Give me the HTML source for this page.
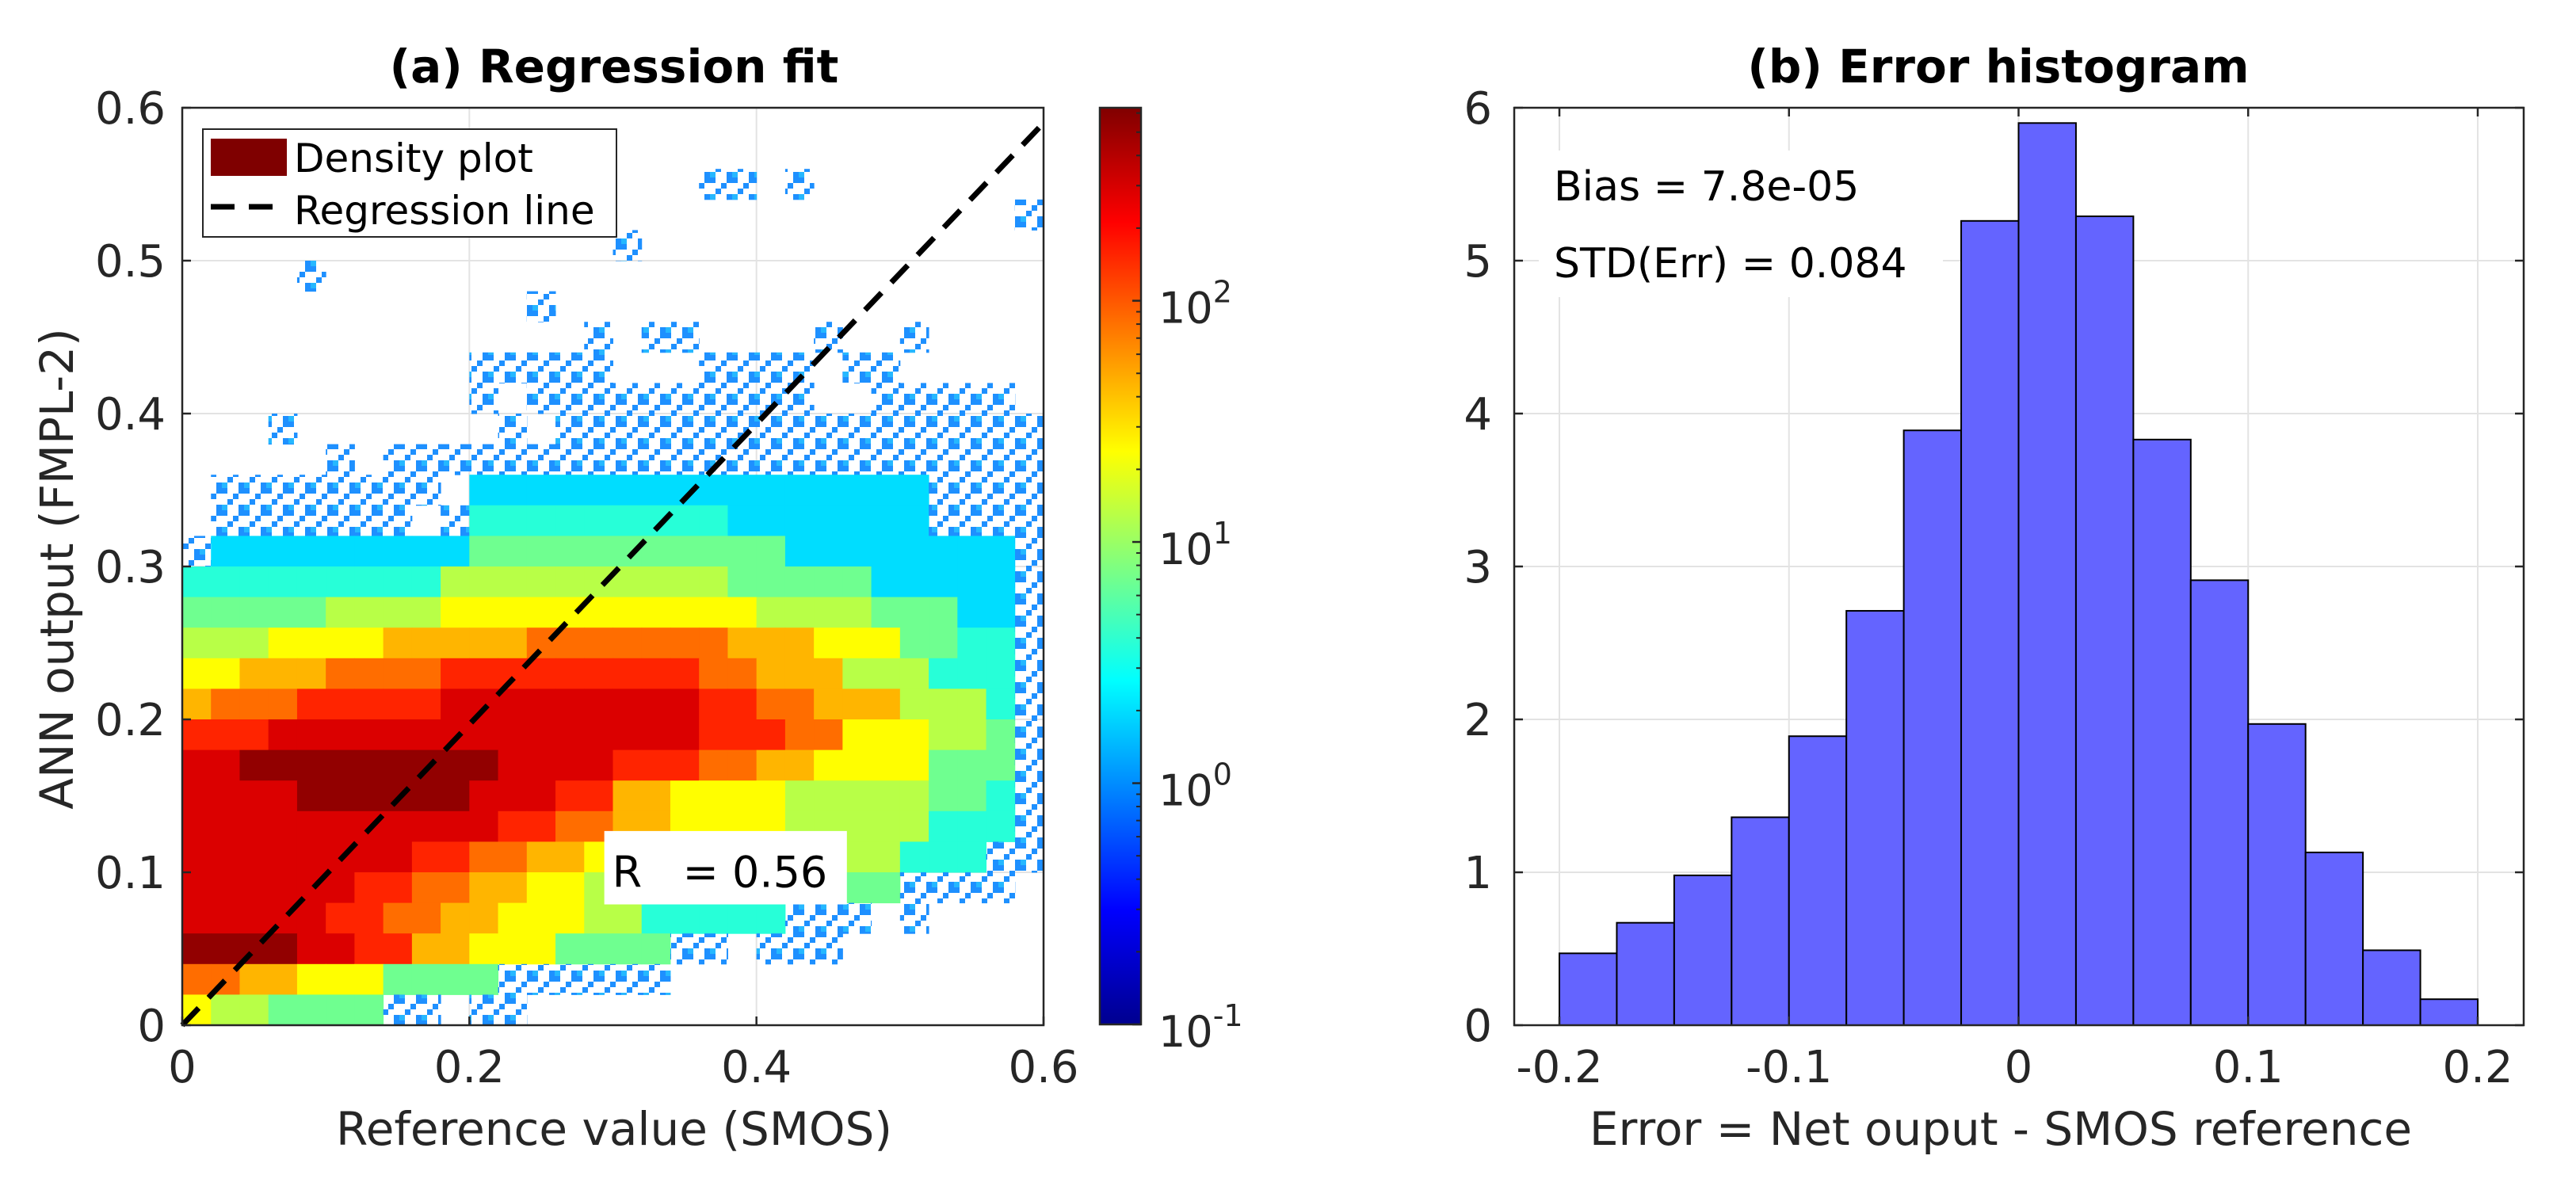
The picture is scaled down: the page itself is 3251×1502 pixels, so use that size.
<!DOCTYPE html>
<html><head><meta charset="utf-8"><style>
html,body{margin:0;padding:0;background:#fff;}
svg{display:block;font-family:"DejaVu Sans","Liberation Sans",sans-serif;}
</style></head><body>
<svg id="fig" width="3251" height="1502" viewBox="0 0 3251 1502" xmlns="http://www.w3.org/2000/svg">
<defs>
<linearGradient id="jet" x1="0" y1="1" x2="0" y2="0">
<stop offset="0" stop-color="#00008f"/><stop offset="0.125" stop-color="#0000ff"/><stop offset="0.375" stop-color="#00ffff"/><stop offset="0.625" stop-color="#ffff00"/><stop offset="0.875" stop-color="#ff0000"/><stop offset="1" stop-color="#800000"/>
</linearGradient>
<pattern id="speck" width="28" height="28" patternUnits="userSpaceOnUse">
<rect x="0" y="0" width="7" height="7" fill="#1e90ff"/><rect x="14" y="7" width="7" height="7" fill="#1e90ff"/>
<rect x="7" y="14" width="7" height="7" fill="#1e90ff"/><rect x="21" y="21" width="7" height="7" fill="#1e90ff"/>
<rect x="21" y="0" width="7" height="7" fill="#1e90ff"/><rect x="0" y="21" width="7" height="7" fill="#26b8ff"/>
</pattern>
</defs>
<g id="left"></g>
<g id="right"></g>
</svg>
<script>
// ---------- data: regression density (0.02 bins, rows top y=0.60 -> bottom y=0) ----------
// '.' empty, 's' sparse single counts, digit d => log10(count) = 0.3 + d*0.27
const densityRows = [
"..............................",
"..............................",
"..................ss.s........",
".............................s",
"...............s..............",
"....s.........................",
"............s.................",
"..............s.ss....s..s....",
"..........sssss...ssss.ss.....",
"..........s.ssssssssss..sssss.",
"...s.......s.sssssssssssssssss",
".....s.sssssssssssssssssssssss",
".ssssssss.0000000000000000ssss",
".sssssss.s1111111110000000ssss",
"s0000000002222222222200000000s",
"11111111133333333332222200000s",
"22222333344444444444333322200s",
"33344445555566666665554442211s",
"44555666677777777766555333111s",
"56667777788888888877665553331s",
"77788888888888888877766444332s",
"88999999999888877766554444222s",
"88889999998887755444433333221s",
"88888888888776655444433333111s",
"8888888877665544333333333111ss",
"8888887766554433222222222ssss.",
"888887766554443311111sss.s....",
"99998877554442222ss.sss.......",
"66554442222ssssss.............",
"4332222ss.ss.................."
];
const xTicksA = [0, 0.2, 0.4, 0.6];
const yTicksA = [0, 0.1, 0.2, 0.3, 0.4, 0.5, 0.6];
const xTickLabelsA = ["0", "0.2", "0.4", "0.6"];
const yTickLabelsA = ["0", "0.1", "0.2", "0.3", "0.4", "0.5", "0.6"];
const cbarExps = [-1, 0, 1, 2];
const regLine = [[0, 0], [0.6, 0.59]];
// ---------- data: error histogram ----------
const binEdgesStart = -0.2;
const binWidth = 0.025;
const histValues = [0.47, 0.67, 0.98, 1.36, 1.89, 2.71, 3.89, 5.26, 5.90, 5.29, 3.83, 2.91, 1.97, 1.13, 0.49, 0.17];
const xTicksB = [-0.2, -0.1, 0, 0.1, 0.2];
const xTickLabelsB = ["-0.2", "-0.1", "0", "0.1", "0.2"];
const yTicksB = [0, 1, 2, 3, 4, 5, 6];

const NS = "http://www.w3.org/2000/svg";
function mk(parent, tag, attrs, text) {
  const e = document.createElementNS(NS, tag);
  for (const k in attrs) e.setAttribute(k, attrs[k]);
  if (text !== undefined) e.textContent = text;
  parent.appendChild(e);
  return e;
}
function jet(t) {
  t = Math.max(0, Math.min(1, t));
  const f = (x) => Math.max(0, Math.min(1, x));
  const r = f(Math.min(4 * t - 1.5, -4 * t + 4.5));
  const g = f(Math.min(4 * t - 0.5, -4 * t + 3.5));
  const b = f(Math.min(4 * t + 0.5, -4 * t + 2.5));
  return `rgb(${Math.round(r*255)},${Math.round(g*255)},${Math.round(b*255)})`;
}

// ===== Left panel =====
const L = document.getElementById('left');
const ax = {x0: 230, x1: 1317, y0: 1294, y1: 136};
const sxA = v => ax.x0 + (v - 0) / 0.6 * (ax.x1 - ax.x0);
const syA = v => ax.y0 - (v - 0) / 0.6 * (ax.y0 - ax.y1);
const cmin = -1, cmax = 2.8;

yTicksA.forEach(v => { const g = mk(L, 'line', {x1: ax.x0, x2: ax.x1, y1: syA(v), y2: syA(v), stroke: '#e3e3e3', 'stroke-width': 2});
  
   });
xTicksA.forEach(v => { const g = mk(L, 'line', {x1: sxA(v), x2: sxA(v), y1: ax.y0, y2: ax.y1, stroke: '#e3e3e3', 'stroke-width': 2});
  
   });

const bw = 0.02;
densityRows.forEach((row, ri) => {
  const yTop = 0.6 - ri * bw;
  for (let ci = 0; ci < row.length; ci++) {
    const c = row[ci];
    if (c === '.') continue;
    const xL = ci * bw;
    let fill;
    if (c === 's') { fill = 'url(#speck)'; }
    else { const lv = 0.3 + parseInt(c) * 0.27; fill = jet((lv - cmin) / (cmax - cmin)); }
    const r = mk(L, 'rect', {x: sxA(xL), y: syA(yTop), width: sxA(xL + bw) - sxA(xL) + 0.5, height: syA(yTop - bw) - syA(yTop) + 0.5, fill: fill});
    
    
  }
});

const rl = mk(L, 'line', {x1: sxA(regLine[0][0]), y1: syA(regLine[0][1]), x2: sxA(regLine[1][0]), y2: syA(regLine[1][1]), stroke: '#000', 'stroke-width': 7, 'stroke-dasharray': '30 18'});



const box = mk(L, 'rect', {x: ax.x0, y: ax.y1, width: ax.x1 - ax.x0, height: ax.y0 - ax.y1, fill: 'none', stroke: '#262626', 'stroke-width': 2.5});


xTicksA.forEach((v, i) => {
  mk(L, 'line', {x1: sxA(v), x2: sxA(v), y1: ax.y0, y2: ax.y0 - 11, stroke: '#262626', 'stroke-width': 2.5});
  const t = mk(L, 'text', {x: sxA(v), y: 1366, 'font-size': 56, fill: '#262626', 'text-anchor': 'middle'}, xTickLabelsA[i]);
  
  
});
yTicksA.forEach((v, i) => {
  mk(L, 'line', {x1: ax.x0, x2: ax.x0 + 11, y1: syA(v), y2: syA(v), stroke: '#262626', 'stroke-width': 2.5});
  const t = mk(L, 'text', {x: 209, y: syA(v) + 20, 'font-size': 56, fill: '#262626', 'text-anchor': 'end'}, yTickLabelsA[i]);
  
  
});

const rb = mk(L, 'rect', {x: sxA(0.294), y: syA(0.127), width: sxA(0.463) - sxA(0.294), height: syA(0.079) - syA(0.127), fill: '#fff'});


const rt = mk(L, 'text', {x: sxA(0.294) + 10, y: syA(0.079) - 22, 'font-size': 54, fill: '#000', style: 'white-space:pre'}, 'R   = 0.56');



const lg = mk(L, 'g', {});


mk(lg, 'rect', {x: 256, y: 163, width: 522, height: 136, fill: '#fff', stroke: '#262626', 'stroke-width': 2});
const lp = mk(lg, 'rect', {x: 266, y: 175, width: 96, height: 47, fill: '#7f0000'});


mk(lg, 'text', {x: 371, y: 217, 'font-size': 50, fill: '#000'}, 'Density plot');
const ll = mk(lg, 'line', {x1: 266, x2: 362, y1: 261, y2: 261, stroke: '#000', 'stroke-width': 7, 'stroke-dasharray': '30 18'});


mk(lg, 'text', {x: 371, y: 283, 'font-size': 50, fill: '#000'}, 'Regression line');

const ta = mk(L, 'text', {x: 775, y: 104, 'font-size': 58, 'font-weight': 'bold', fill: '#000', 'text-anchor': 'middle'}, '(a) Regression fit');


const xla = mk(L, 'text', {x: 775, y: 1445, 'font-size': 58, fill: '#262626', 'text-anchor': 'middle'}, 'Reference value (SMOS)');


const yla = mk(L, 'text', {x: 0, y: 0, 'font-size': 58, fill: '#262626', 'text-anchor': 'middle', transform: 'translate(92,718) rotate(-90)'}, 'ANN output (FMPL-2)');



const cb = {x0: 1388, x1: 1440, y0: 1293, y1: 136};
const sc = v => cb.y0 - (v - cmin) / (cmax - cmin) * (cb.y0 - cb.y1);
const cbr = mk(L, 'rect', {x: cb.x0, y: cb.y1, width: cb.x1 - cb.x0, height: cb.y0 - cb.y1, fill: 'url(#jet)', stroke: '#262626', 'stroke-width': 2.5});


cbarExps.forEach(e => {
  const y = sc(e);
  mk(L, 'line', {x1: cb.x1 - 11, x2: cb.x1, y1: y, y2: y, stroke: '#262626', 'stroke-width': 2.5});
  for (let m = 2; m <= 9; m++) {
    const ym = sc(e + Math.log10(m));
    if (ym > cb.y1) mk(L, 'line', {x1: cb.x1 - 6, x2: cb.x1, y1: ym, y2: ym, stroke: '#262626', 'stroke-width': 2});
  }
  const t = mk(L, 'text', {x: 1462, y: y + 28, 'font-size': 54, fill: '#262626'});
  
  
  mk(t, 'tspan', {}, '10');
  mk(t, 'tspan', {'font-size': 38, dy: -26}, String(e));
});

// ===== Right panel =====
const R = document.getElementById('right');
const bx = {y0: 1294, y1: 136};
const sxB = v => 1968 + (v + 0.2) / 0.4 * (3127 - 1968);
const syB = v => bx.y0 - v / 6 * (bx.y0 - bx.y1);
const bx0 = 1911, bx1 = 3185;
yTicksB.forEach(v => { const g = mk(R, 'line', {x1: bx0, x2: bx1, y1: syB(v), y2: syB(v), stroke: '#e3e3e3', 'stroke-width': 2});
  
   });
xTicksB.forEach(v => { const g = mk(R, 'line', {x1: sxB(v), x2: sxB(v), y1: bx.y0, y2: bx.y1, stroke: '#e3e3e3', 'stroke-width': 2});
  
   });

histValues.forEach((h, i) => {
  const a = binEdgesStart + i * binWidth, b = a + binWidth;
  const r = mk(R, 'rect', {x: sxB(a), y: syB(h), width: sxB(b) - sxB(a), height: syB(0) - syB(h), fill: '#6464ff', stroke: '#000', 'stroke-width': 2});
  
  
});

const bbox = mk(R, 'rect', {x: bx0, y: bx.y1, width: bx1 - bx0, height: bx.y0 - bx.y1, fill: 'none', stroke: '#262626', 'stroke-width': 2.5});


xTicksB.forEach((v, i) => {
  mk(R, 'line', {x1: sxB(v), x2: sxB(v), y1: bx.y0, y2: bx.y0 - 11, stroke: '#262626', 'stroke-width': 2.5});
  mk(R, 'line', {x1: sxB(v), x2: sxB(v), y1: bx.y1, y2: bx.y1 + 11, stroke: '#262626', 'stroke-width': 2.5});
  const t = mk(R, 'text', {x: sxB(v), y: 1366, 'font-size': 56, fill: '#262626', 'text-anchor': 'middle'}, xTickLabelsB[i]);
  
  
});
yTicksB.forEach(v => {
  mk(R, 'line', {x1: bx0, x2: bx0 + 11, y1: syB(v), y2: syB(v), stroke: '#262626', 'stroke-width': 2.5});
  mk(R, 'line', {x1: bx1 - 11, x2: bx1, y1: syB(v), y2: syB(v), stroke: '#262626', 'stroke-width': 2.5});
  const t = mk(R, 'text', {x: 1883, y: syB(v) + 20, 'font-size': 56, fill: '#262626', 'text-anchor': 'end'}, String(v));
  
  
});

const sb = mk(R, 'rect', {x: 1942, y: 190, width: 510, height: 185, fill: '#fff'});


const t1 = mk(R, 'text', {x: 1961, y: 253, 'font-size': 52, fill: '#000'}, 'Bias = 7.8e-05');


const t2 = mk(R, 'text', {x: 1961, y: 350, 'font-size': 52, fill: '#000'}, 'STD(Err) = 0.084');



const tb = mk(R, 'text', {x: 2522, y: 104, 'font-size': 58, 'font-weight': 'bold', fill: '#000', 'text-anchor': 'middle'}, '(b) Error histogram');


const xlb = mk(R, 'text', {x: 2525, y: 1445, 'font-size': 58, fill: '#262626', 'text-anchor': 'middle'}, 'Error = Net ouput - SMOS reference');


</script>
</body></html>
